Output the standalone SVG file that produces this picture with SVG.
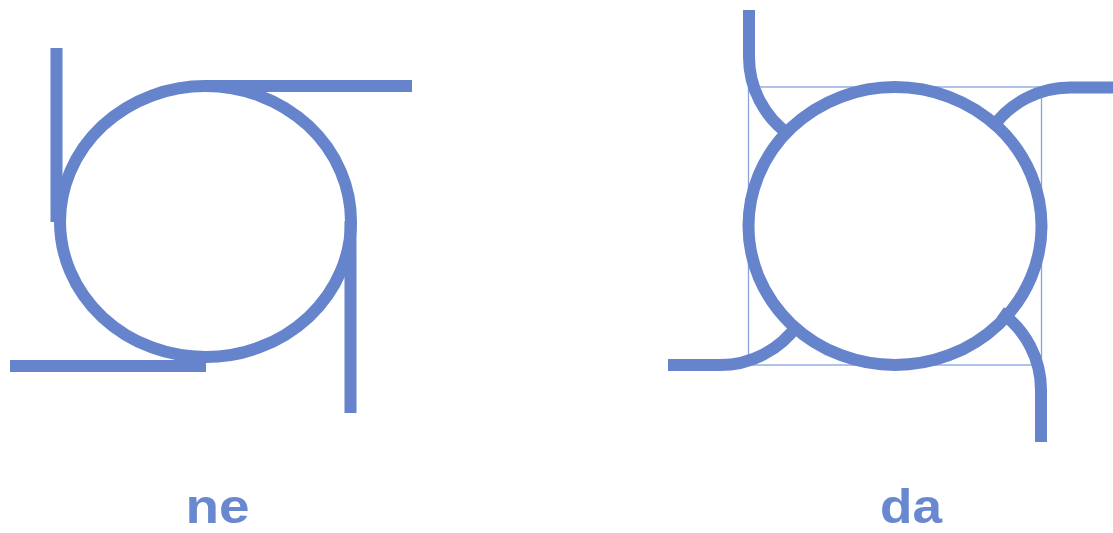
<svg xmlns="http://www.w3.org/2000/svg" width="1113" height="533" viewBox="0 0 1113 533">
  <style>
    .thick { fill: none; stroke: #6584cc; stroke-width: 12; stroke-linecap: butt; }
    .thin { fill: none; stroke: #86a3de; stroke-width: 1.3; }
    .lbl { font-family: "Liberation Sans", Arial, sans-serif; font-weight: bold; font-size: 48px; fill: #6a88d0; text-anchor: middle; }
  </style>
  <rect width="1113" height="533" fill="#ffffff"/>
  <g id="ne">
    <g id="ne-connectors">
      <line class="thick" x1="56.5" y1="48" x2="56.5" y2="222"/>
      <line class="thick" x1="206" y1="86" x2="412" y2="86"/>
      <line class="thick" x1="350.5" y1="221" x2="350.5" y2="413"/>
      <line class="thick" x1="10" y1="366" x2="206" y2="366"/>
    </g>
    <ellipse id="ne-circle" class="thick" cx="205.5" cy="221.5" rx="145.5" ry="135.5"/>
    <text id="ne-label" class="lbl" x="217.5" y="523" textLength="64" lengthAdjust="spacingAndGlyphs">ne</text>
  </g>
  <g id="da">
    <rect id="da-box" class="thin" x="748.5" y="87" width="293" height="278"/>
    <g id="da-connectors">
      <path class="thick" d="M749 10 V57 A95 95 0 0 0 789.5 134.8"/>
      <path class="thick" d="M1113 87.5 H1070 A95 95 0 0 0 992.2 128"/>
      <path class="thick" d="M668 365 H720 A95 95 0 0 0 797.8 324.5"/>
      <path class="thick" d="M1041 442 V390 A95 95 0 0 0 1000.5 312.2"/>
    </g>
    <ellipse id="da-circle" class="thick" cx="895" cy="226" rx="146.5" ry="139"/>
    <text id="da-label" class="lbl" x="911" y="523" textLength="62" lengthAdjust="spacingAndGlyphs">da</text>
  </g>
</svg>
